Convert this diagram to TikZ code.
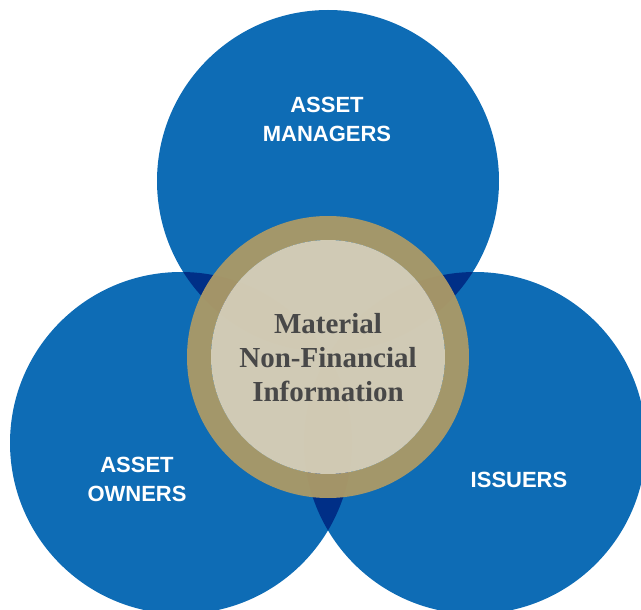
\documentclass[tikz,border=0pt]{standalone}
\usepackage{fontspec}
\setmainfont{Liberation Serif}
\newfontfamily\labelfont{Liberation Sans}
\definecolor{cblue}{RGB}{14,108,181}
\definecolor{cnavy}{RGB}{0,47,135}
\definecolor{cgold}{RGB}{170,153,103}
\definecolor{cpale}{RGB}{215,206,181}
\definecolor{ctext}{RGB}{72,72,72}
\begin{document}
\begin{tikzpicture}[x=1pt,y=-1pt,
  circlabel/.style={font=\labelfont\bfseries\fontsize{22}{29}\selectfont, text=white, align=center, inner sep=0pt},
  centerlabel/.style={font=\bfseries\fontsize{29}{34}\selectfont, text=ctext, align=center, inner sep=0pt},
  bluedisc/.style={fill=cblue},
  overlap/.style={fill=cnavy}]
\useasboundingbox (0,0) rectangle (641,610);
\clip (0,0) rectangle (641,610);
\coordinate (ct) at (328,181);
\coordinate (cl) at (181,443);
\coordinate (cr) at (475,443);
\coordinate (cc) at (328,357);
% blue discs
\fill[bluedisc] (ct) circle (171pt);
\fill[bluedisc] (cl) circle (171pt);
\fill[bluedisc] (cr) circle (171pt);
% overlaps
\begin{scope}
  \clip (ct) circle (171pt);
  \fill[overlap] (cl) circle (171pt);
  \fill[overlap] (cr) circle (171pt);
\end{scope}
\begin{scope}
  \clip (cl) circle (171pt);
  \fill[overlap] (cr) circle (171pt);
\end{scope}
% gold ring and centre
\fill[cgold, fill opacity=0.96, even odd rule] (cc) circle (141pt) (cc) circle (117pt);
\fill[cpale, fill opacity=0.97] (cc) circle (117pt);
% labels
\node[circlabel] (tlabel) at (327,119.5) {ASSET\\MANAGERS};
\node[circlabel] (llabel) at (137,479.5) {ASSET\\OWNERS};
\node[circlabel] (rlabel) at (519,480) {ISSUERS};
\node[centerlabel] (clabel) at (328,358) {Material\\Non-Financial\\Information};
\end{tikzpicture}
\end{document}
